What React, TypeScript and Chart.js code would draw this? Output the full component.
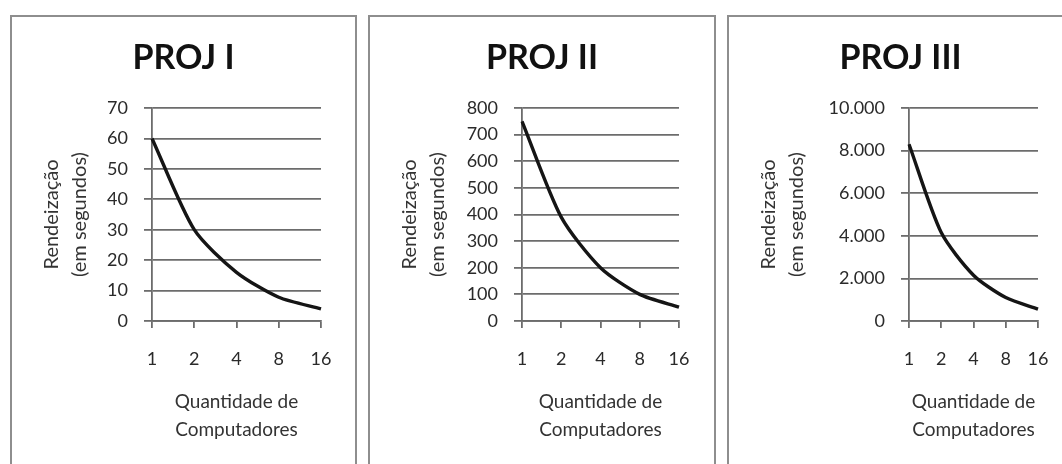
import React, { useEffect, useRef } from "react";
import { Chart, registerables } from "chart.js";

Chart.register(...registerables);

// ---- data ----
const categories = ["1", "2", "4", "8", "16"];
const projITimes = [60, 30, 16, 7.8, 4];
const projIITimes = [750, 390, 200, 100, 52];
const projIIITimes = [8300, 4150, 2150, 1100, 560];
const projITicks = [0, 10, 20, 30, 40, 50, 60, 70];
const projIITicks = [0, 100, 200, 300, 400, 500, 600, 700, 800];
const projIIITicks = [0, 2000, 4000, 6000, 8000, 10000];
const titles = ["PROJ I", "PROJ II", "PROJ III"];
const yTitle = ["Rendeização", "(em segundos)"];
const xTitle = ["Quantidade de", "Computadores"];

const FONT = "Lato, 'Open Sans', sans-serif";

function fmt(v: number): string {
  return String(v).replace(/\B(?=(\d{3})+(?!\d))/g, ".");
}

type PanelProps = {
  title: string;
  values: number[];
  ticks: number[];
  left: number;
  width: number;
  chartLeft: number;
};

const CANVAS_H = 447;
const CHART_TOP = 91;
const CHART_BOTTOM = 304;
const CHART_RIGHT = 309;

function Panel({ title, values, ticks, left, width, chartLeft }: PanelProps) {
  const ref = useRef<HTMLCanvasElement | null>(null);
  useEffect(() => {
    if (!ref.current) return;
    const gridColor = "#6c6c6c";
    const chart = new Chart(ref.current, {
      type: "line",
      data: {
        labels: categories,
        datasets: [
          {
            data: values,
            borderColor: "#151515",
            borderWidth: 3.4,
            pointRadius: 0,
            tension: 0.25,
            fill: false,
          },
        ],
      },
      options: {
        responsive: false,
        animation: false,
        events: [],
        layout: { padding: 0 },
        plugins: {
          legend: { display: false },
          tooltip: { enabled: false },
          title: {
            display: true,
            text: title,
            color: "#111",
            font: { family: FONT, size: 34, weight: "bold", lineHeight: 1.2 },
            padding: { top: 21, bottom: CHART_TOP - 21 - 40.8 },
          },
        },
        scales: {
          x: {
            type: "category",
            offset: false,
            grid: {
              display: true,
              drawOnChartArea: false,
              drawTicks: true,
              tickLength: 7,
              color: gridColor,
              lineWidth: 1.8,
            },
            border: { display: true, color: gridColor, width: 1.8 },
            ticks: {
              color: "#2a2a2a",
              padding: 20,
              maxRotation: 0,
              font: { family: FONT, size: 18 },
            },
            title: {
              display: true,
              text: xTitle,
              color: "#333",
              font: { family: FONT, size: 19, lineHeight: "28px" },
              padding: { top: 0, bottom: 20 },
            },
            afterFit: (scale: any) => {
              scale.height = CANVAS_H - CHART_BOTTOM;
            },
          },
          y: {
            min: ticks[0],
            max: ticks[ticks.length - 1],
            grid: {
              display: true,
              drawTicks: true,
              tickLength: 8,
              color: gridColor,
              lineWidth: 1.8,
            },
            border: { display: true, color: gridColor, width: 1.8 },
            ticks: {
              stepSize: ticks[1] - ticks[0],
              color: "#2a2a2a",
              padding: 16,
              font: { family: FONT, size: 18 },
              callback: (v: any) => fmt(Number(v)),
            },
            title: {
              display: true,
              text: yTitle,
              color: "#333",
              font: { family: FONT, size: 20, lineHeight: "28px" },
              padding: { top: 26, bottom: 0 },
            },
            afterFit: (scale: any) => {
              scale.width = chartLeft;
            },
          },
          // empty right-hand spacer so the title stays centred on the whole panel
          spacer: {
            type: "linear",
            position: "right",
            display: true,
            grid: { display: false, drawTicks: false },
            border: { display: false },
            ticks: { display: false },
            afterFit: (scale: any) => {
              scale.width = width - CHART_RIGHT;
            },
          },
        },
      },
    } as any);
    return () => chart.destroy();
  }, [title, values, ticks, width, chartLeft]);

  return (
    <div
      style={{
        position: "absolute",
        left,
        top: 15,
        width,
        height: CANVAS_H + 20,
        border: "2px solid #8e8e8e",
        background: "#fff",
      }}
    >
      <canvas ref={ref} width={width} height={CANVAS_H} style={{ display: "block" }} />
    </div>
  );
}

export default function App() {
  return (
    <div
      style={{
        position: "fixed",
        left: 0,
        top: 0,
        width: 1062,
        height: 464,
        overflow: "hidden",
        background: "#fff",
      }}
    >
      <Panel title={titles[0]} values={projITimes} ticks={projITicks} left={10} width={343} chartLeft={140} />
      <Panel title={titles[1]} values={projIITimes} ticks={projIITicks} left={368} width={344} chartLeft={152} />
      <Panel title={titles[2]} values={projIIITimes} ticks={projIIITicks} left={727} width={343} chartLeft={180} />
    </div>
  );
}
